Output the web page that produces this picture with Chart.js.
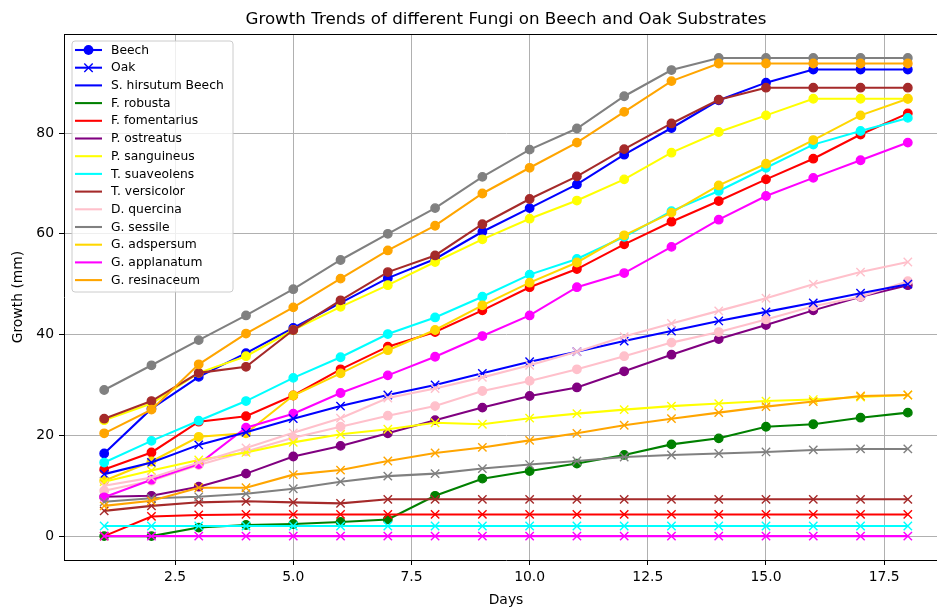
<!DOCTYPE html>
<html><head><meta charset="utf-8">
<script src="https://cdn.jsdelivr.net/npm/chart.js@4.4.0/dist/chart.umd.min.js"></script>
<style>html,body{margin:0;padding:0;overflow:hidden;background:#fff}</style>
</head><body>
<canvas id="c" width="960" height="610"></canvas>
<script>
const days = [1,2,3,4,5,6,7,8,9,10,11,12,13,14,15,16,17,18];
const xTicks = [2.5,5,7.5,10,12.5,15,17.5];
const yTicks = [0,20,40,60,80];
const fungi = ["S. hirsutum","F. robusta","F. fomentarius","P. ostreatus","P. sanguineus","T. suaveolens","T. versicolor","D. quercina","G. sessile","G. adspersum","G. applanatum","G. resinaceum"];
const legendNames = ["S. hirsutum Beech","F. robusta","F. fomentarius","P. ostreatus","P. sanguineus","T. suaveolens","T. versicolor","D. quercina","G. sessile","G. adspersum","G. applanatum","G. resinaceum"];
const colors = ["#0000ff","#008000","#ff0000","#800080","#ffff00","#00ffff","#a52a2a","#ffc0cb","#808080","#ffd700","#ff00ff","#ffa500"];

// Beech substrate (circle markers)
const beechSHirsutum   = [16.4,25.3,31.6,36.3,41.3,46.3,51.2,55.0,60.4,65.1,69.8,75.7,81.0,86.5,90.0,92.6,92.6,92.6];
const beechFRobusta    = [0,0,1.7,2.2,2.4,2.8,3.3,8.0,11.4,12.9,14.4,16.1,18.2,19.4,21.7,22.2,23.5,24.5];
const beechFFomentarius= [13.2,16.6,22.7,23.8,27.9,33.1,37.6,40.5,44.8,49.4,53.0,57.9,62.4,66.5,70.8,74.9,79.7,83.9];
const beechPOstreatus  = [7.8,8.0,9.8,12.4,15.8,17.9,20.4,23.0,25.5,27.8,29.5,32.7,36.0,39.1,41.9,44.8,47.5,49.8];
const beechPSanguineus = [23.0,26.3,32.4,35.7,40.9,45.5,49.8,54.4,58.9,63.0,66.6,70.8,76.1,80.2,83.5,86.8,86.8,86.8];
const beechTSuaveolens = [14.6,18.9,22.9,26.8,31.4,35.5,40.1,43.4,47.5,51.9,55.0,59.4,64.5,68.5,73.1,77.7,80.4,83.0];
const beechTVersicolor = [23.3,26.8,32.4,33.6,40.9,46.8,52.4,55.7,61.9,66.9,71.4,76.8,81.9,86.6,89.0,89.0,89.0,89.0];
const beechDQuercina   = [9.0,11.0,14.1,16.8,19.5,21.7,23.9,25.8,28.8,30.8,33.1,35.7,38.4,40.5,43.0,45.6,47.5,50.6];
const beechGSessile    = [29.0,33.9,38.9,43.8,49.0,54.8,60.0,65.1,71.3,76.7,80.9,87.3,92.5,94.9,94.9,94.9,94.9,94.9];
const beechGAdspersum  = [11.0,14.8,19.7,20.4,27.9,32.3,36.9,40.9,45.8,50.3,54.3,59.7,64.2,69.6,73.9,78.6,83.5,86.8];
const beechGApplanatum = [7.7,11.2,14.3,21.5,24.3,28.4,31.9,35.6,39.7,43.8,49.4,52.2,57.4,62.8,67.5,71.1,74.6,78.1];
const beechGResinaceum = [20.4,25.1,34.1,40.2,45.4,51.1,56.7,61.6,68.0,73.1,78.1,84.2,90.3,93.8,93.8,93.8,93.8,93.8];

// Oak substrate (x markers)
const oakSHirsutum   = [12.3,14.6,18.1,20.6,23.3,25.8,28.0,30.0,32.3,34.6,36.6,38.7,40.7,42.7,44.5,46.3,48.2,50.0];
const oakFFomentarius= [0,3.9,4.2,4.3,4.3,4.3,4.3,4.3,4.3,4.3,4.3,4.3,4.3,4.3,4.3,4.3,4.3,4.3];
const oakPSanguineus = [10.8,13.0,15.1,16.6,18.6,20.2,21.2,22.5,22.2,23.4,24.3,25.1,25.8,26.3,26.8,27.1,27.6,28.0];
const oakTSuaveolens = [2.0,2.0,2.0,2.0,2.0,2.0,2.0,2.0,2.0,2.0,2.0,2.0,2.0,2.0,2.0,2.0,2.0,2.0];
const oakTVersicolor = [5.0,6.0,6.7,6.9,6.7,6.5,7.3,7.3,7.3,7.3,7.3,7.3,7.3,7.3,7.3,7.3,7.3,7.3];
const oakDQuercina   = [10.0,11.6,14.6,17.5,20.5,23.4,27.4,29.3,31.5,33.9,36.6,39.6,42.2,44.7,47.2,50.0,52.4,54.4];
const oakGSessile    = [6.8,7.5,7.8,8.4,9.4,10.8,11.9,12.4,13.4,14.2,14.9,15.7,16.1,16.4,16.7,17.1,17.3,17.3];
const oakGApplanatum = [0,0,0,0,0,0,0,0,0,0,0,0,0,0,0,0,0,0];
const oakGResinaceum = [6.0,7.0,9.6,9.6,12.2,13.1,14.9,16.5,17.6,19.0,20.4,22.0,23.3,24.5,25.7,26.7,27.8,28.0];

const beechSeries = [beechSHirsutum,beechFRobusta,beechFFomentarius,beechPOstreatus,beechPSanguineus,beechTSuaveolens,beechTVersicolor,beechDQuercina,beechGSessile,beechGAdspersum,beechGApplanatum,beechGResinaceum];
const oakSeries = [[0,oakSHirsutum],[2,oakFFomentarius],[4,oakPSanguineus],[5,oakTSuaveolens],[6,oakTVersicolor],[7,oakDQuercina],[8,oakGSessile],[10,oakGApplanatum],[11,oakGResinaceum]];

const LW = 2.08, R = 4.2, XR = 5.9, MEW = 1.4;
const datasets = [];
beechSeries.forEach((arr,i)=>{
  datasets.push({label: fungi[i]+" Beech", data: days.map((d,k)=>({x:d,y:arr[k]})),
    borderColor: colors[i], backgroundColor: colors[i], pointBackgroundColor: colors[i], pointBorderColor: colors[i],
    borderWidth: LW, pointStyle:'circle', pointRadius:R, pointBorderWidth:MEW, tension:0, fill:false});
});
oakSeries.forEach(([i,arr])=>{
  datasets.push({label: fungi[i]+" Oak", data: days.map((d,k)=>({x:d,y:arr[k]})),
    borderColor: colors[i], backgroundColor: colors[i], pointBackgroundColor: colors[i], pointBorderColor: colors[i],
    borderWidth: LW, pointStyle:'crossRot', pointRadius:XR, pointBorderWidth:MEW, tension:0, fill:false});
});
datasets.forEach((d,i)=>{ d.order = -i; });

const allVals = beechSeries.concat(oakSeries.map(o=>o[1])).flat();
const dMin = Math.min(...allVals), dMax = Math.max(...allVals);
const yPad = (dMax-dMin)*0.05;
const xPad = (days[days.length-1]-days[0])*0.05;

const FONT = "'DejaVu Sans', sans-serif";
Chart.defaults.font.family = FONT;
Chart.defaults.color = '#000';

const framePlugin = { id:'frame', afterDatasetsDraw(chart){
  const {ctx, chartArea:a} = chart;
  ctx.save(); ctx.strokeStyle='#000'; ctx.lineWidth=1;
  ctx.beginPath();
  ctx.moveTo(a.left, Math.round(a.top)+0.5); ctx.lineTo(a.right, Math.round(a.top)+0.5);
  ctx.stroke();
  ctx.restore();
}};

const legendPlugin = { id:'mylegend', afterDraw(chart){
  const ctx = chart.ctx;
  const x0 = 72, y0 = 41, w = 161, h = 251, r = 3;
  ctx.save();
  ctx.beginPath();
  ctx.moveTo(x0+r,y0); ctx.lineTo(x0+w-r,y0); ctx.arcTo(x0+w,y0,x0+w,y0+r,r);
  ctx.lineTo(x0+w,y0+h-r); ctx.arcTo(x0+w,y0+h,x0+w-r,y0+h,r);
  ctx.lineTo(x0+r,y0+h); ctx.arcTo(x0,y0+h,x0,y0+h-r,r);
  ctx.lineTo(x0,y0+r); ctx.arcTo(x0,y0,x0+r,y0,r); ctx.closePath();
  ctx.fillStyle='rgba(255,255,255,0.8)'; ctx.fill();
  ctx.strokeStyle='#cccccc'; ctx.lineWidth=1; ctx.stroke();
  const entries = [{t:'Beech',c:colors[0],m:'circle'},{t:'Oak',c:colors[0],m:'x'}]
    .concat(legendNames.map((n,i)=>({t:n,c:colors[i],m:null})));
  ctx.font = "12.3px " + FONT;
  ctx.textBaseline='middle'; ctx.textAlign='left';
  entries.forEach((e,i)=>{
    const y = 50 + i*17.7;
    ctx.strokeStyle=e.c; ctx.lineWidth=LW;
    ctx.beginPath(); ctx.moveTo(75,y); ctx.lineTo(102,y); ctx.stroke();
    if (e.m==='circle'){ ctx.fillStyle=e.c; ctx.beginPath(); ctx.arc(88.5,y,R+MEW/2,0,Math.PI*2); ctx.fill(); }
    if (e.m==='x'){ ctx.lineWidth=MEW; const q=4.2; ctx.beginPath(); ctx.moveTo(88.5-q,y-q); ctx.lineTo(88.5+q,y+q); ctx.moveTo(88.5-q,y+q); ctx.lineTo(88.5+q,y-q); ctx.stroke(); }
    ctx.fillStyle='#000'; ctx.fillText(e.t, 111, y+0.5);
  });
  ctx.restore();
}};

new Chart(document.getElementById('c'), {
  type:'line',
  data:{datasets},
  options:{
    responsive:false, animation:false, devicePixelRatio:1,
    layout:{padding:{left:0,right:12,top:0,bottom:0}},
    plugins:{
      legend:{display:false}, tooltip:{enabled:false},
      title:{display:true, text:'Growth Trends of different Fungi on Beech and Oak Substrates', fullSize:false,
        font:{size:16.7, weight:'normal', family:FONT}, color:'#000', padding:{top:10,bottom:4}}
    },
    scales:{
      x:{type:'linear', min:days[0]-xPad, max:days[days.length-1]+xPad,
        afterBuildTicks:s=>{s.ticks = xTicks.map(v=>({value:v}));},
        afterFit:s=>{s.height=50;},
        ticks:{callback:v=>Number(v).toFixed(1), font:{size:13.9}, color:'#000', padding:4, maxRotation:0, autoSkip:false},
        grid:{color:'#b0b0b0', lineWidth:1, tickColor:'#000', tickLength:5, drawTicks:true},
        border:{display:true, color:'#000', width:1},
        title:{display:true, text:'Days', font:{size:13.9}, color:'#000', padding:{top:0,bottom:1}}
      },
      y:{type:'linear', min:dMin-yPad, max:dMax+yPad,
        afterBuildTicks:s=>{s.ticks = yTicks.map(v=>({value:v}));},
        afterFit:s=>{s.width=64;},
        ticks:{callback:v=>String(v), font:{size:13.9}, color:'#000', padding:5, autoSkip:false},
        grid:{color:'#b0b0b0', lineWidth:1, tickColor:'#000', tickLength:5, drawTicks:true},
        border:{display:true, color:'#000', width:1},
        title:{display:true, text:'Growth (mm)', font:{size:13.9}, color:'#000', padding:{top:10,bottom:0}}
      }
    }
  },
  plugins:[framePlugin, legendPlugin]
});
</script>
</body></html>
